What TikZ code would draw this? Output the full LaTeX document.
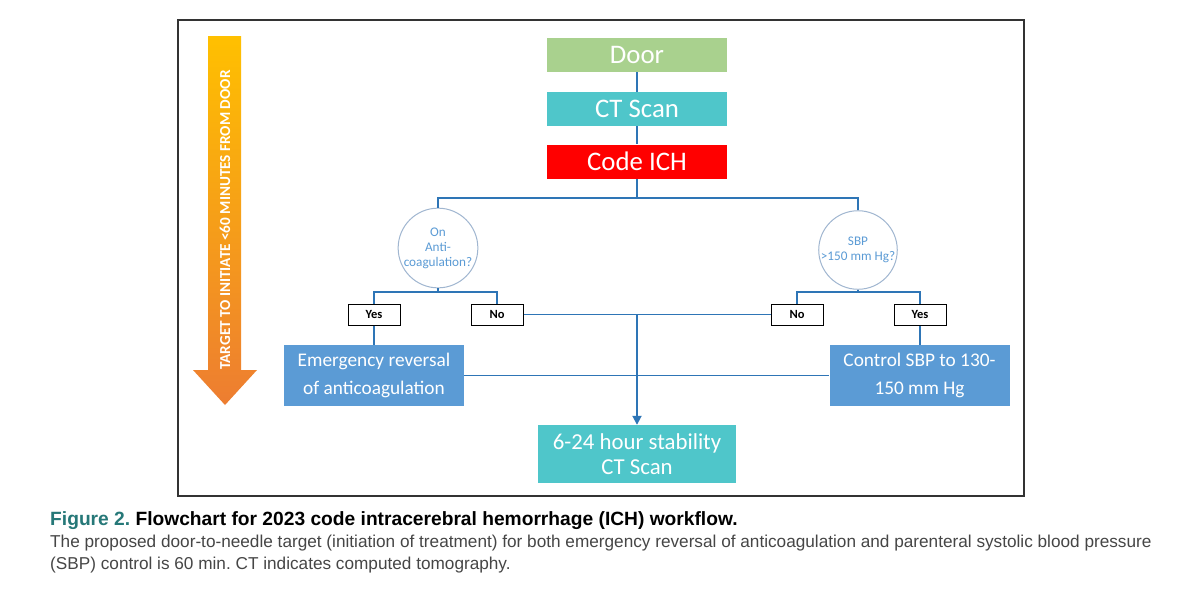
\documentclass[tikz,border=0pt]{standalone}
\usepackage{fontspec}
\setmainfont{Carlito}
\newfontfamily\capfont{Liberation Sans}
\usetikzlibrary{arrows.meta}
\AtBeginDocument{\frenchspacing}
\definecolor{lineblue}{RGB}{46,117,182}
\definecolor{boxblue}{RGB}{91,155,213}
\definecolor{doorgreen}{RGB}{169,209,142}
\definecolor{tealbox}{RGB}{79,198,202}
\definecolor{codered}{RGB}{255,0,0}
\definecolor{circline}{RGB}{160,182,208}
\definecolor{circtext}{RGB}{91,155,213}
\definecolor{capteal}{RGB}{38,120,120}
\definecolor{capgray}{RGB}{70,70,70}
\definecolor{arrowtop}{RGB}{255,192,0}
\definecolor{arrowbot}{RGB}{237,125,49}
\tikzset{
  topbox/.style={minimum width=180pt, minimum height=34pt, inner sep=0pt, text=white, font=\fontsize{26.8}{28}\selectfont},
  actbox/.style={fill=boxblue, minimum width=180pt, minimum height=61pt, inner sep=0pt, text=white, align=center, font=\fontsize{19.3}{28}\selectfont},
  decision/.style={circle, draw=circline, line width=1pt, fill=white, minimum size=69pt, inner sep=0pt, align=center, text=circtext, font=\fontsize{13.2}{15}\selectfont},
  answer/.style={draw=black, line width=1pt, fill=white, minimum width=52pt, minimum height=21pt, inner sep=0pt, font=\bfseries\fontsize{12.5}{14}\selectfont},
  conn/.style={draw=lineblue, line width=1.8pt},
}
\begin{document}
\begin{tikzpicture}[x=1pt,y=-1pt]
\fill[white] (0,0) rectangle (1200,590);
\useasboundingbox (0,0) rectangle (1200,590);
\draw[line width=2pt, black!80] (178,20) rectangle (1024,496);

% time arrow
\shade[top color=arrowtop, bottom color=arrowbot] (208,36) -- (241,36) -- (241,370) -- (257,370) -- (225,405) -- (193,370) -- (208,370) -- cycle;
\node[rotate=90, text=white, font=\bfseries\fontsize{15.2}{17}\selectfont] (arrowlbl) at (225,220) {TARGET TO INITIATE <60 MINUTES FROM DOOR};

% top column
\node[topbox, fill=doorgreen] (door) at (637,55) {Door};
\node[topbox, fill=tealbox] (ct) at (637,109) {CT Scan};
\node[topbox, fill=codered] (code) at (637,161.5) {Code ICH};
\draw[conn] (door.south) -- (ct.north);
\draw[conn] (ct.south) -- (code.north);

\coordinate (split) at (637,198);
\node[decision] (anti) at (438,248) {On\\Anti-\\coagulation?};
\node[decision] (sbp) at (858,250) {SBP\\>150 mm Hg?};
\draw[conn] (code.south) -- (split);
\draw[conn] (anti.north) -- (anti.north |- split) -- (sbp.north |- split) -- (sbp.north);

\node[answer] (yesL) at (374,314.5) {Yes};
\node[answer] (noL) at (497,314.5) {No};
\node[answer] (noR) at (797,314.5) {No};
\node[answer] (yesR) at (920,314.5) {Yes};

\coordinate (aj) at (438,292);
\coordinate (sj) at (858,292);
\draw[conn] (anti.south) -- (aj);
\draw[conn] (yesL.north) |- (aj) -| (noL.north);
\draw[conn] (sbp.south) -- (sj);
\draw[conn] (noR.north) |- (sj) -| (yesR.north);

\node[actbox] (emerg) at (374,375.5) {Emergency reversal\\of anticoagulation};
\node[actbox] (ctrl) at (919.5,375.5) {Control SBP to 130-\\150 mm Hg};
\node[fill=tealbox, minimum width=198pt, minimum height=58pt, inner sep=0pt, text=white, align=center, font=\fontsize{22.8}{25}\selectfont] (final) at (637,454) {6-24 hour stability\\CT Scan};

\draw[conn] (yesL.south) -- (yesL.south |- emerg.north);
\draw[conn] (yesR.south) -- (yesR.south |- ctrl.north);
\draw[conn] (noL.east) -- (noR.west);
\draw[conn] (emerg.east) -- (ctrl.west);
\draw[conn, -{Triangle[length=9pt,width=9pt]}] (final.north |- noL.east) -- (final.north);

% caption
\node[anchor=base west, inner sep=0pt, font=\capfont\bfseries\fontsize{19.2}{22}\selectfont] (cap1) at (50,525) {\textcolor{capteal}{Figure 2.} Flowchart for 2023 code intracerebral hemorrhage (ICH) workflow.};
\node[anchor=base west, inner sep=0pt, text=capgray, font=\capfont\fontsize{17.2}{22}\selectfont] (cap2) at (50,547) {The proposed door-to-needle target (initiation of treatment) for both emergency reversal of anticoagulation and parenteral systolic blood pressure};
\node[anchor=base west, inner sep=0pt, text=capgray, font=\capfont\fontsize{17.2}{22}\selectfont] (cap3) at (50,569) {(SBP) control is 60 min. CT indicates computed tomography.};
\end{tikzpicture}
\end{document}
